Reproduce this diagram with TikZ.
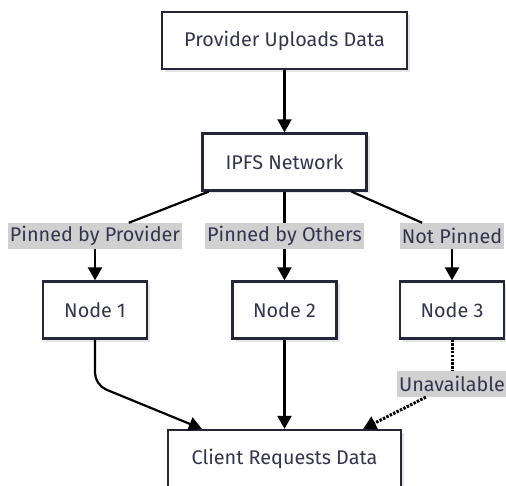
\documentclass[tikz,border=0pt]{standalone}
\usepackage{fontspec}
\setmainfont{Fira Sans}
\usepackage{xcolor}
\usepackage{tikz}
\usetikzlibrary{positioning, arrows.meta, shadows}

\definecolor{boxline}{RGB}{38,38,58}
\definecolor{txt}{RGB}{52,52,78}
\definecolor{labfill}{RGB}{208,208,208}

\begin{document}
\begin{tikzpicture}[
    x=1pt, y=1pt,
    font=\fontsize{19.8}{23}\selectfont,
    box/.style={
        rectangle,
        draw=boxline,
        fill=white,
        line width=2.3pt,
        text=txt,
        minimum height=57pt,
        align=center,
        general shadow={fill=black!10, shadow xshift=3pt, shadow yshift=-3pt}
    },
    lab/.style={
        fill=labfill,
        text=txt,
        inner xsep=2pt,
        inner ysep=0pt,
        minimum height=26pt
    },
    flow/.style={-{Triangle[length=13pt, width=14pt]}, line width=2.2pt, black},
    link/.style={line width=2.2pt, black},
    gone/.style={line width=3pt, black, dash pattern=on 2.4pt off 1.4pt}
]

\useasboundingbox (0,0) rectangle (506,-486);
\fill[white] (0,0) rectangle (506,-486);

\def\xa{95}
\def\xb{284.5}
\def\xc{452}

% Boxes
\node[box, minimum width=245pt] (up)   at (\xb, -40.5) {Provider Uploads Data};
\node[box, minimum width=164pt] (ipfs) at (\xb, -162)  {IPFS Network};
\node[box, minimum width=104pt] (n1)   at (\xa, -310)  {Node 1};
\node[box, minimum width=104pt] (n2)   at (\xb, -310)  {Node 2};
\node[box, minimum width=104pt] (n3)   at (\xc, -310)  {Node 3};
\node[box, minimum width=233pt] (cl)   at (\xb, -458.5) {Client Requests Data};

% Edge labels
\node[lab] (lp) at (\xa, -236) {Pinned by Provider};
\node[lab] (lo) at (\xb, -236) {Pinned by Others};
\node[lab] (ln) at (\xc, -236) {Not Pinned};
\node[lab] (lu) at (\xc, -384) {Unavailable};

% Arrow ends on the client box
\coordinate (cl1) at ([xshift=35pt]cl.north west);
\coordinate (cl3) at ([xshift=-39pt]cl.north east);

\draw[flow] (up) -- (ipfs);

\draw[link] (ipfs) -- (lp);
\draw[link] (ipfs) -- (lo);
\draw[link] (ipfs) -- (ln);
\draw[flow] (lp) -- (n1);
\draw[flow] (lo) -- (n2);
\draw[flow] (ln) -- (n3);

\draw[flow, rounded corners=12pt] (n1) -- (\xa, -385) -- (cl1);
\draw[flow] (n2) -- (cl);
\draw[gone] (n3) -- (lu);
\draw[gone, -{Triangle[length=13pt, width=14pt]}] (lu) -- (cl3);

\end{tikzpicture}
\end{document}
